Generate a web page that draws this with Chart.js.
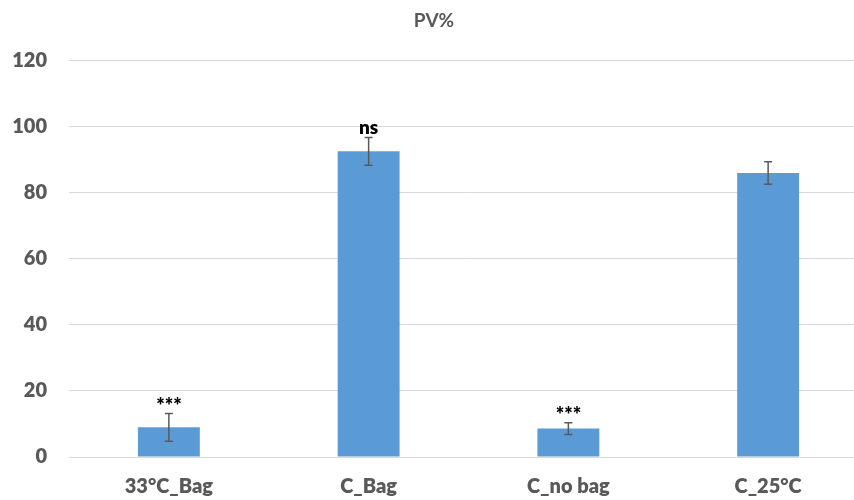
<!DOCTYPE html>
<html>
<head>
<meta charset="utf-8">
<script src="https://cdn.jsdelivr.net/npm/chart.js@4"></script>
<style>
  html, body { margin: 0; padding: 0; background: #ffffff; overflow: hidden; }
  #wrap { width: 854px; height: 500px; overflow: hidden; }
  canvas { display: block; }
</style>
</head>
<body>
<div id="wrap"><canvas id="c" width="880" height="500"></canvas></div>
<script>
// Treatment groups and mean PV% with standard error
const categories = ['33°C_Bag', 'C_Bag', 'C_no bag', 'C_25°C'];
const pvMeans = [9.0, 92.6, 8.6, 86.0];
const pvErrors = [4.2, 4.2, 1.8, 3.4];
const significance = ['***', 'ns', '***', ''];
const yTicks = [0, 20, 40, 60, 80, 100, 120];

const FONT = 'Lato, "Liberation Sans", sans-serif';
const GREY = '#595959';

// Error bars and significance markers drawn over the bars
const errorBarPlugin = {
  id: 'errorBars',
  afterDatasetsDraw(chart) {
    const ctx = chart.ctx;
    const meta = chart.getDatasetMeta(0);
    const y = chart.scales.y;
    ctx.save();
    meta.data.forEach((bar, i) => {
      const x = bar.x;
      const top = y.getPixelForValue(pvMeans[i] + pvErrors[i]);
      const bot = y.getPixelForValue(pvMeans[i] - pvErrors[i]);
      ctx.strokeStyle = GREY;
      ctx.lineWidth = 1.5;
      ctx.beginPath();
      ctx.moveTo(x, top); ctx.lineTo(x, bot);
      ctx.moveTo(x - 4, top); ctx.lineTo(x + 4, top);
      ctx.moveTo(x - 4, bot); ctx.lineTo(x + 4, bot);
      ctx.stroke();
      if (significance[i]) {
        ctx.fillStyle = '#000000';
        ctx.textAlign = 'center';
        if (significance[i] === 'ns') {
          ctx.font = '800 19px ' + FONT;
          ctx.textBaseline = 'alphabetic';
          ctx.fillText(significance[i], x, top - 3);
        } else {
          ctx.font = '800 20px ' + FONT;
          ctx.textBaseline = 'middle';
          ctx.fillText(significance[i], x, top - 7);
        }
      }
    });
    ctx.restore();
  }
};

new Chart(document.getElementById('c'), {
  type: 'bar',
  data: {
    labels: categories,
    datasets: [{
      data: pvMeans,
      backgroundColor: '#5b9bd5',
      borderWidth: 0,
      barPercentage: 0.31,
      categoryPercentage: 1.0
    }]
  },
  options: {
    responsive: false,
    animation: false,
    layout: { padding: { top: 0, right: 12, left: 0, bottom: 0 } },
    plugins: {
      legend: { display: false },
      tooltip: { enabled: false },
      title: {
        display: true,
        text: 'PV%',
        color: GREY,
        font: { family: FONT, size: 19, weight: 'bold' },
        padding: { top: 9, bottom: 29 }
      }
    },
    scales: {
      x: {
        grid: { display: false },
        border: { display: true, color: '#d9d9d9', width: 1 },
        ticks: { color: GREY, font: { family: FONT, size: 20, weight: '800' }, padding: 10 },
        afterFit(s) { s.height = 43; }
      },
      y: {
        min: 0,
        max: 120,
        afterBuildTicks(s) { s.ticks = yTicks.map(v => ({ value: v })); },
        grid: { color: '#d9d9d9', lineWidth: 1, drawTicks: false },
        border: { display: false },
        ticks: { color: GREY, font: { family: FONT, size: 20, weight: '800' }, padding: 22 },
        afterFit(s) { s.width = 69; }
      }
    }
  },
  plugins: [errorBarPlugin]
});
</script>
</body>
</html>
